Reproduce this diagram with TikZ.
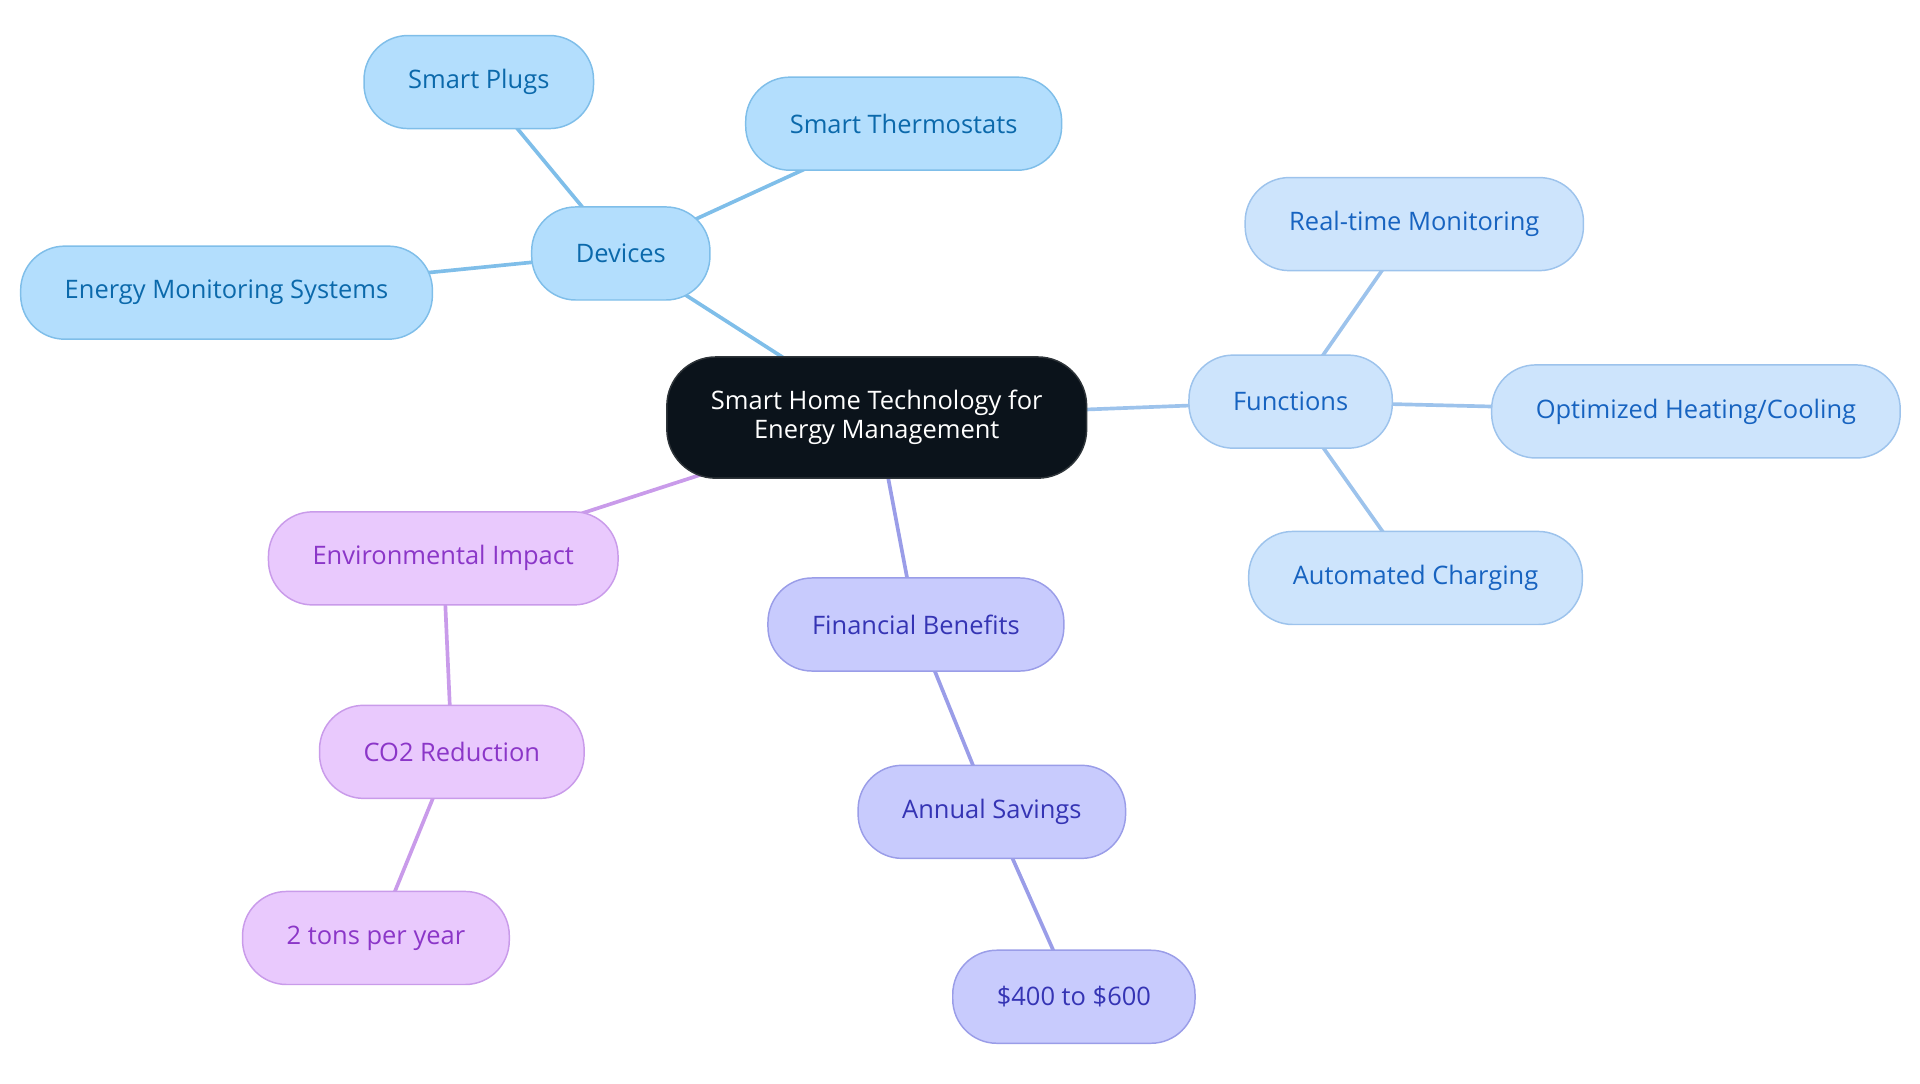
\documentclass[tikz,border=0pt]{standalone}
\usepackage{fontspec}
\setmainfont{Open Sans}
\usepackage{tikz}
\usetikzlibrary{positioning,calc,backgrounds}

\definecolor{rootfill}{HTML}{0B131B}
\definecolor{devfill}{HTML}{B3DEFD}
\definecolor{devline}{HTML}{7FBEE9}
\definecolor{devtext}{HTML}{0B69AB}
\definecolor{funfill}{HTML}{CDE4FC}
\definecolor{funline}{HTML}{9DC3EC}
\definecolor{funtext}{HTML}{1763C0}
\definecolor{envfill}{HTML}{E9C9FD}
\definecolor{envline}{HTML}{C99BEA}
\definecolor{envtext}{HTML}{8B36C8}
\definecolor{finfill}{HTML}{C8CBFD}
\definecolor{finline}{HTML}{9A9DE8}
\definecolor{fintext}{HTML}{3534B4}

\tikzset{
  topic/.style={draw, line width=0.6pt, rounded corners=18pt, minimum height=38pt,
    inner xsep=18pt, font=\fontsize{10.4}{12}\selectfont},
  root/.style={topic, fill=rootfill, draw=rootfill!70!gray, text=white, align=center,
    minimum height=49.5pt, inner xsep=18pt, rounded corners=20pt},
  dev/.style={topic, fill=devfill, draw=devline, text=devtext},
  fun/.style={topic, fill=funfill, draw=funline, text=funtext},
  env/.style={topic, fill=envfill, draw=envline, text=envtext},
  fin/.style={topic, fill=finfill, draw=finline, text=fintext},
  link/.style={line width=1.5pt}
}

\begin{document}
\begin{tikzpicture}[x=0.5pt, y=-0.5pt]
    \useasboundingbox (0, 0) rectangle (1568, 885);

    \node[root] (root) at (716, 341) {Smart Home Technology for\\Energy Management};

    % devices
    \node[dev] (devices) at (507, 207) {Devices};
    \node[dev] (plugs) at (391, 67) {Smart Plugs};
    \node[dev] (thermo) at (738, 101) {Smart Thermostats};
    \node[dev] (monsys) at (185, 239) {Energy Monitoring Systems};

    % functions
    \node[fun] (functions) at (1054, 328) {Functions};
    \node[fun] (realtime) at (1155, 183) {Real-time Monitoring};
    \node[fun] (heating) at (1385, 336) {Optimized Heating/Cooling};
    \node[fun] (charging) at (1156, 472) {Automated Charging};

    % environment
    \node[env] (envimp) at (362, 456) {Environmental Impact};
    \node[env] (cotwo) at (369, 614) {CO2 Reduction};
    \node[env] (tons) at (307, 766) {2 tons per year};

    % finance
    \node[fin] (finben) at (748, 510) {Financial Benefits};
    \node[fin] (savings) at (810, 663) {Annual Savings};
    \node[fin] (amount) at (877, 814) {\$400 to \$600};

    % links run centre to centre behind the boxes
    \begin{scope}[on background layer]
      \draw[link, devline] (root.center) -- (devices.center);
      \draw[link, devline] (devices.center) -- (plugs.center);
      \draw[link, devline] (devices.center) -- (thermo.center);
      \draw[link, devline] (devices.center) -- (monsys.center);

      \draw[link, funline] (root.center) -- (functions.center);
      \draw[link, funline] (functions.center) -- (realtime.center);
      \draw[link, funline] (functions.center) -- (heating.center);
      \draw[link, funline] (functions.center) -- (charging.center);

      \draw[link, envline] (root.center) -- (envimp.center);
      \draw[link, envline] (envimp.center) -- (cotwo.center);
      \draw[link, envline] (cotwo.center) -- (tons.center);

      \draw[link, finline] (root.center) -- (finben.center);
      \draw[link, finline] (finben.center) -- (savings.center);
      \draw[link, finline] (savings.center) -- (amount.center);
    \end{scope}
  \end{tikzpicture}
\end{document}
